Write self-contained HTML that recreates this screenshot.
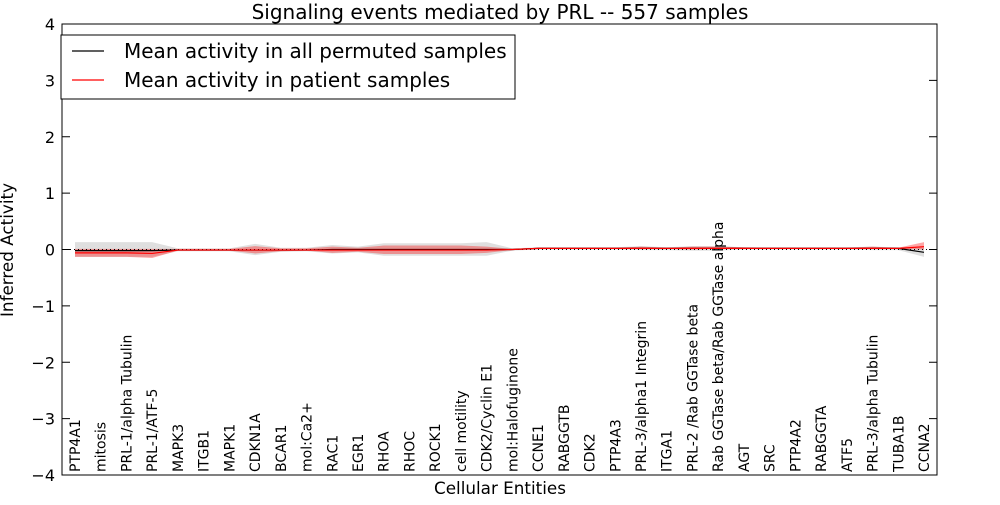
<!DOCTYPE html>
<html><head><meta charset="utf-8"><style>
body{margin:0;background:#fff;}
svg{font-family:"DejaVu Sans","Liberation Sans",sans-serif;}
</style></head><body>
<svg id="chart" width="1000" height="500">
<rect width="1000" height="500" fill="#fff"/>
<g id="bands"></g>
<g id="lines"></g>
<g id="labels"></g>
<rect x="62" y="24" width="875" height="451" fill="none" stroke="#000" stroke-width="1"/>
<g id="yaxis"></g>
<text x="500" y="19" font-size="20" text-anchor="middle">Signaling events mediated by PRL -- 557 samples</text>
<text x="500" y="494" font-size="16.8" text-anchor="middle">Cellular Entities</text>
<text transform="translate(13,250) rotate(-90)" font-size="16.8" text-anchor="middle">Inferred Activity</text>
<g>
<rect x="61" y="35" width="454" height="64" fill="#fff" stroke="#000"/>
<line x1="72" y1="51" x2="104" y2="51" stroke="#000" stroke-width="1.2"/>
<text x="124" y="58" font-size="20">Mean activity in all permuted samples</text>
<line x1="72" y1="80" x2="104" y2="80" stroke="#f00" stroke-width="1.2"/>
<text x="124" y="87" font-size="20">Mean activity in patient samples</text>
</g>
</svg>
<script>
const categories=["PTP4A1","mitosis","PRL-1/alpha Tubulin","PRL-1/ATF-5","MAPK3","ITGB1","MAPK1","CDKN1A","BCAR1","mol:Ca2+","RAC1","EGR1","RHOA","RHOC","ROCK1","cell motility","CDK2/Cyclin E1","mol:Halofuginone","CCNE1","RABGGTB","CDK2","PTP4A3","PRL-3/alpha1 Integrin","ITGA1","PRL-2 /Rab GGTase beta","Rab GGTase beta/Rab GGTase alpha","AGT","SRC","PTP4A2","RABGGTA","ATF5","PRL-3/alpha Tubulin","TUBA1B","CCNA2"];
const permMean=[-0.02,-0.02,-0.02,-0.02,-0.01,-0.01,-0.01,-0.01,-0.01,-0.01,0,0,0,0,0,0,0,0,0.02,0.02,0.02,0.02,0.02,0.02,0.02,0.02,0.02,0.02,0.02,0.02,0.02,0.02,0.02,-0.05];
const permLo=[-0.13,-0.13,-0.13,-0.13,-0.03,-0.03,-0.03,-0.1,-0.04,-0.03,-0.07,-0.05,-0.11,-0.11,-0.11,-0.11,-0.11,-0.02,0,0,0,0,-0.01,-0.01,-0.02,-0.02,0,0,0,0,0,-0.01,-0.01,-0.13];
const permHi=[0.13,0.13,0.13,0.13,0.02,0.02,0.02,0.1,0.03,0.03,0.08,0.05,0.11,0.11,0.11,0.11,0.13,0.02,0.04,0.04,0.04,0.04,0.06,0.04,0.06,0.06,0.04,0.04,0.04,0.04,0.04,0.05,0.04,0.03];
const patMean=[-0.06,-0.06,-0.06,-0.07,-0.01,-0.01,-0.01,-0.01,-0.01,-0.01,-0.01,-0.01,-0.01,-0.01,-0.01,-0.01,-0.01,0,0.02,0.02,0.02,0.02,0.02,0.02,0.02,0.02,0.02,0.02,0.02,0.02,0.02,0.02,0.02,0.05];
const patLo=[-0.13,-0.13,-0.13,-0.15,-0.02,-0.02,-0.02,-0.07,-0.03,-0.02,-0.06,-0.04,-0.08,-0.08,-0.08,-0.08,-0.06,-0.01,0.01,0.01,0.01,0.01,0.01,0.01,0.0,0.01,0.01,0.01,0.01,0.01,0.01,0.01,0.01,0];
const patHi=[0.01,0.01,0.01,0.01,0.01,0.01,0.01,0.06,0.02,0.02,0.05,0.03,0.07,0.07,0.07,0.07,0.05,0.01,0.03,0.03,0.03,0.03,0.05,0.03,0.05,0.05,0.04,0.03,0.03,0.03,0.03,0.05,0.03,0.13];
const yTicks=[-4,-3,-2,-1,0,1,2,3,4];
const NS="http://www.w3.org/2000/svg";
const x=i=>75+i*(924-75)/(categories.length-1);
const y=v=>249.5-v*(451/8);
function mk(t,a,p){const e=document.createElementNS(NS,t);for(const k in a)e.setAttribute(k,a[k]);p.appendChild(e);return e;}
function band(lo,hi,fill,op,name){
 let d="M"+lo.map((v,i)=>x(i)+","+y(v)).join(" L");
 for(let i=hi.length-1;i>=0;i--)d+=" L"+x(i)+","+y(hi[i]);
 const p=mk("path",{d:d+"Z",fill:fill,"fill-opacity":op},document.getElementById("bands"));
 
 
}
band(permLo,permHi,"#b8b8b8",0.45,"permuted-band");
band(patLo,patHi,"#f00",0.35,"patient-band");
const L=document.getElementById("lines");
const zl=mk("line",{x1:62,x2:937,y1:y(0),y2:y(0),stroke:"#000","stroke-dasharray":"1,3"},L);


const pl=mk("polyline",{points:permMean.map((v,i)=>x(i)+","+y(v)).join(" "),fill:"none",stroke:"#000","stroke-width":1.2},L);


const rl=mk("polyline",{points:patMean.map((v,i)=>x(i)+","+y(v)).join(" "),fill:"none",stroke:"#f00","stroke-width":1.2},L);


const LB=document.getElementById("labels");
categories.forEach((c,i)=>{
 const t=mk("text",{transform:`translate(${x(i)+5},472) rotate(-90)`,"font-size":14},LB);
 t.textContent=c;
 
 
});
const Y=document.getElementById("yaxis");
yTicks.forEach(v=>{
 mk("line",{x1:62,x2:70,y1:y(v),y2:y(v),stroke:"#000"},Y);
 mk("line",{x1:929,x2:937,y1:y(v),y2:y(v),stroke:"#000"},Y);
 const t=mk("text",{x:55,y:y(v)+6,"font-size":16,"text-anchor":"end"},Y);
 t.textContent=v<0?"\u2212"+(-v):v;
 
 
});
</script>
</body></html>
